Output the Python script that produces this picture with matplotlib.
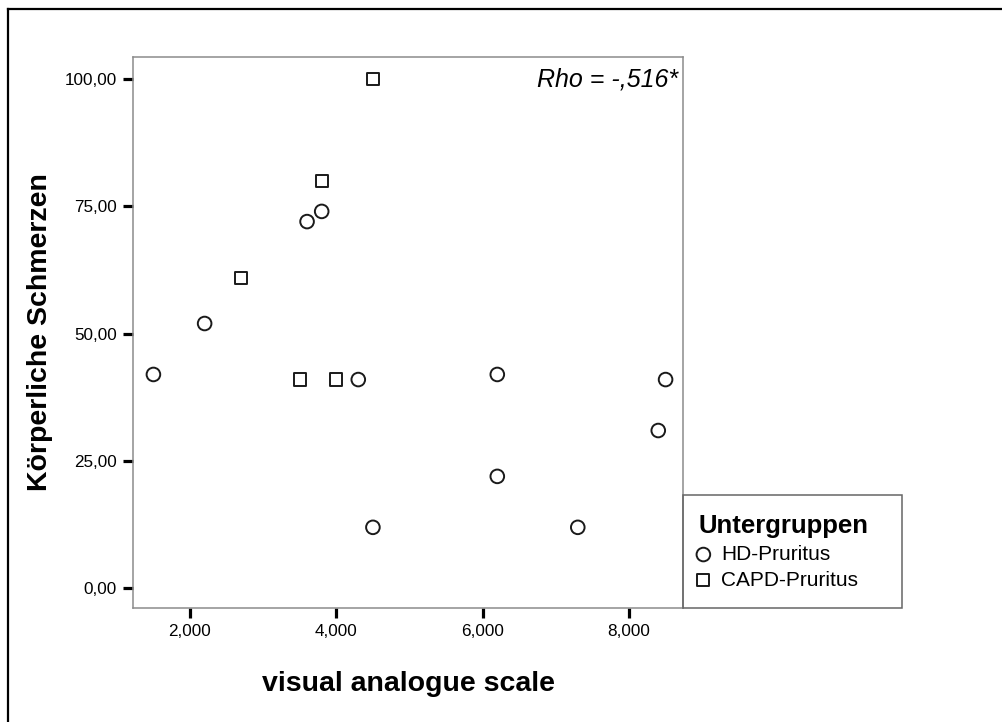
import matplotlib
matplotlib.use('Agg')
import matplotlib.pyplot as plt
from matplotlib.lines import Line2D
from matplotlib.patches import Rectangle

plt.rcParams['font.family'] = ['Liberation Sans', 'DejaVu Sans']

# data (VAS score, Körperliche Schmerzen)
hd_vas = [1.5, 2.2, 3.6, 3.8, 4.3, 4.5, 6.2, 6.2, 7.3, 8.4, 8.5]
hd_pain = [42, 52, 72, 74, 41, 12, 42, 22, 12, 31, 41]
capd_vas = [2.7, 3.5, 3.8, 4.0, 4.5]
capd_pain = [61, 41, 80, 41, 100]

x_ticks = [2, 4, 6, 8]
y_ticks = [0, 25, 50, 75, 100]
group_labels = ['HD-Pruritus', 'CAPD-Pruritus']
rho_text = 'Rho = -,516*'

W, H = 1003, 722
fig = plt.figure(figsize=(W / 100, H / 100), dpi=100)

# axes box: 133..683 px wide, 57..608 px high
ax = fig.add_axes([133 / W, (H - 608) / H, 550.5 / W, 551 / H])

sc_hd = ax.scatter(hd_vas, hd_pain, s=9.8 ** 2, marker='o', facecolors='none',
                   edgecolors='#1a1a1a', linewidths=1.4, zorder=3)
sc_capd = ax.scatter(capd_vas, capd_pain, s=8.8 ** 2, marker='s', facecolors='none',
                     edgecolors='#1a1a1a', linewidths=1.4, zorder=3)

ax.set_xlim(1.221, 8.745)
ax.set_ylim(-3.83, 104.3)
ax.set_xticks(x_ticks)
ax.set_yticks(y_ticks)
ax.set_xticklabels([f'{v:.3f}'.replace('.', ',') for v in x_ticks])
ax.set_yticklabels([f'{v:.2f}'.replace('.', ',') for v in y_ticks])
ax.tick_params(axis='both', direction='out', length=7.5, width=2.3, color='black',
               labelsize=12.3, pad=4)

for sp in ax.spines.values():
    sp.set_color('#8c8c8c')
    sp.set_linewidth(1.1)

ax.set_xlabel('visual analogue scale', fontsize=20.5, fontweight='bold')
ax.xaxis.label.set_va('center')
ax.xaxis.set_label_coords(0.5, (608 - 684) / 551)
ax.set_ylabel('Körperliche Schmerzen', fontsize=20.5, fontweight='bold')
ax.yaxis.label.set_va('center')
ax.yaxis.set_label_coords((40 - 133) / 550.5, 0.5)

ax.text((678 - 133) / 550.5, (608 - 80) / 551, rho_text, transform=ax.transAxes,
        ha='right', va='center', fontsize=18, style='italic')

# legend box
fig.patches.append(Rectangle((683 / W, (H - 608) / H), (902 - 683) / W, (608 - 495) / H,
                             transform=fig.transFigure, fill=False,
                             edgecolor='#666666', linewidth=1.1, zorder=5))
fig.text(699 / W, (H - 526) / H, 'Untergruppen', fontsize=18.5, fontweight='bold',
         ha='left', va='center')
leg = ax.legend([sc_hd, sc_capd], group_labels, loc='upper left',
                bbox_to_anchor=(694 / W, (H - 545) / H), bbox_transform=fig.transFigure,
                frameon=False, fontsize=15, handlelength=0.9, handletextpad=0.4,
                borderpad=0, borderaxespad=0, labelspacing=0.32, markerscale=1.0)

# outer frame (only top and left edges are visible in the picture)
fig.add_artist(Line2D([8 / W, 8 / W], [0, (H - 9) / H], transform=fig.transFigure,
                      color='black', linewidth=1.6))
fig.add_artist(Line2D([8 / W, 1], [(H - 9) / H, (H - 9) / H], transform=fig.transFigure,
                      color='black', linewidth=1.6))

plt.savefig('out.png', dpi=100)
